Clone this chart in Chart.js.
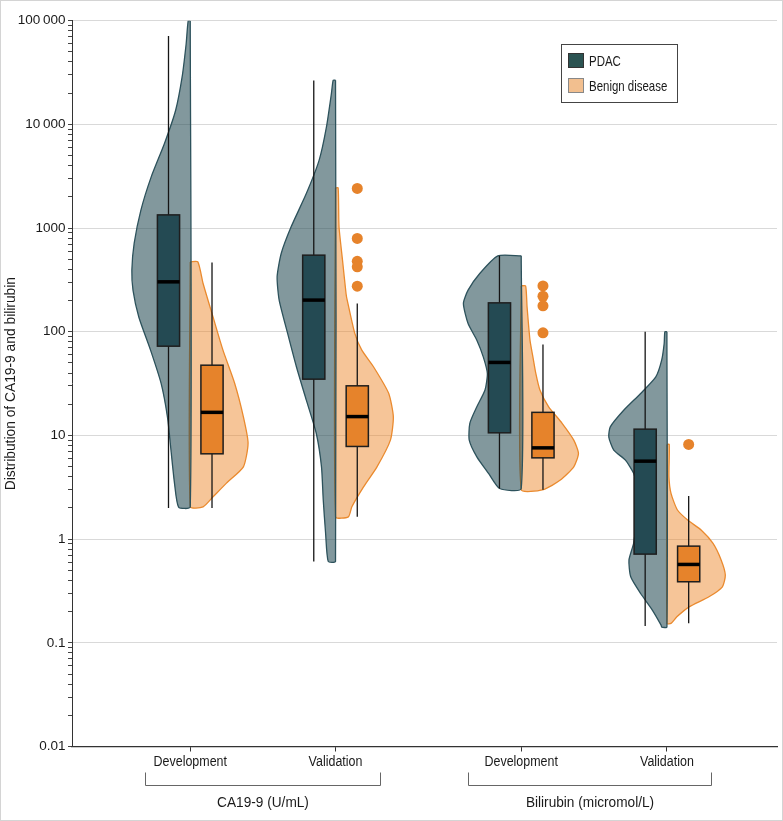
<!DOCTYPE html>
<html><head><meta charset="utf-8">
<script src="https://cdn.jsdelivr.net/npm/chart.js@4/dist/chart.umd.min.js"></script>
<style>html,body{margin:0;padding:0;background:#fff}#wrap{width:783px;height:821px;position:relative}</style>
</head><body><div id="wrap"><canvas id="c" width="783" height="821"></canvas></div>
<script>
// ---------- data ----------
const categories = ['Development', 'Validation', 'Development', 'Validation'];
const groupLabels = ['CA19-9 (U/mL)', 'Bilirubin (micromol/L)'];
const seriesNames = ['PDAC', 'Benign disease'];
const yTitle = 'Distribution of CA19-9 and bilirubin';
const yTickLabels = ['0.01', '0.1', '1', '10', '100', '1000', '10\u2009000', '100\u2009000'];

// box statistics per category: [min, q1, median, q3, max]
const pdacBox = [[2.0, 72.6, 303, 1340, 71000], [0.61, 34.9, 202, 548, 26500], [3.08, 10.6, 50.6, 190, 540], [0.145, 0.717, 5.65, 11.5, 100]];
const benignBox = [[2.0, 6.65, 16.7, 47.6, 466], [1.64, 7.83, 15.2, 30.1, 187], [3.0, 6.08, 7.59, 16.7, 75.4], [0.154, 0.388, 0.57, 0.856, 2.6]];
const benignOutliers = [[], [2410, 794, 478, 423, 275], [277, 220, 178, 97.6], [8.19]];

// half-violin profiles: [value, relative density]
const pdacViolinCaDev = [[100000, 0.035], [60000, 0.07], [28500, 0.14], [13700, 0.25], [6590, 0.44], [3100, 0.67], [1490, 0.845], [715, 0.96], [393, 1.0], [251, 0.98], [138, 0.88], [66.5, 0.68], [31.9, 0.5], [15.0, 0.39], [7.2, 0.33], [3.47, 0.27], [2.04, 0.2]];
const benignViolinCaDev = [[472, 0.13], [292, 0.22], [139, 0.39], [66.5, 0.56], [31.9, 0.76], [15.1, 0.91], [8.43, 0.99], [4.98, 0.91], [3.47, 0.62], [2.56, 0.39], [2.05, 0.22]];
const pdacViolinCaVal = [[26700, 0.04], [19900, 0.07], [9460, 0.155], [4520, 0.28], [2150, 0.5], [1028, 0.76], [569, 0.93], [339, 1.0], [202, 0.965], [96.4, 0.82], [46, 0.67], [21.9, 0.5], [10.5, 0.33], [4.98, 0.24], [2.38, 0.21], [1.14, 0.17], [0.61, 0.125]];
const benignViolinCaVal = [[2440, 0.045], [1028, 0.06], [490, 0.12], [234, 0.18], [202, 0.2], [96.4, 0.33], [66.5, 0.45], [46, 0.65], [25.5, 0.91], [15.1, 0.99], [9.02, 0.94], [4.98, 0.71], [3.19, 0.48], [2.05, 0.28], [1.64, 0.22]];
const pdacViolinBiDev = [[540, 0.40], [365, 0.71], [252, 0.91], [187.5, 0.99], [120, 0.91], [83, 0.76], [57.3, 0.65], [39.6, 0.58], [27.4, 0.62], [18.9, 0.76], [13.1, 0.88], [9.02, 0.89], [6.22, 0.76], [4.31, 0.56], [3.08, 0.37]];
const benignViolinBiDev = [[277, 0.075], [174, 0.10], [83, 0.15], [57.3, 0.2], [39.6, 0.25], [27.4, 0.32], [18.9, 0.47], [13.1, 0.7], [9.02, 0.9], [6.7, 0.98], [4.98, 0.9], [3.71, 0.67], [3.01, 0.38]];
const pdacViolinBiVal = [[100, 0.035], [77.1, 0.047], [53.2, 0.09], [36.7, 0.19], [25.4, 0.45], [17.5, 0.74], [12.1, 0.97], [9.64, 0.995], [7.21, 0.91], [5.78, 0.71], [4.31, 0.57], [2.97, 0.5], [1.91, 0.5], [1.36, 0.53], [0.91, 0.57], [0.627, 0.65], [0.433, 0.62], [0.299, 0.45], [0.207, 0.25], [0.148, 0.1], [0.142, 0.09]];
const benignViolinBiVal = [[8.19, 0.04], [3.99, 0.035], [2.76, 0.07], [1.91, 0.18], [1.52, 0.36], [1.22, 0.59], [0.91, 0.79], [0.627, 0.93], [0.45, 1.0], [0.347, 0.95], [0.278, 0.72], [0.222, 0.38], [0.178, 0.17], [0.154, 0.07]];

const pdacViolins = [pdacViolinCaDev, pdacViolinCaVal, pdacViolinBiDev, pdacViolinBiVal];
const benignViolins = [benignViolinCaDev, benignViolinCaVal, benignViolinBiDev, benignViolinBiVal];

// ---------- layout (axis units) ----------
const X_MAX = 4.829;
const catPos = [0.81, 1.805, 3.077, 4.075];
const groupSpan = [[0.497, 2.11], [2.712, 4.38]];
const BOX_OFF = 0.149, BOX_HW = 0.076, VIOLIN_W = 0.4;

const FONT = "'Liberation Sans', Arial, sans-serif";
const TXT = '#1a1a1a';
const PDAC_DARK = '#244a53', PDAC_FILL = 'rgba(36,74,83,0.57)', PDAC_LINE = '#2d525c';
const BEN_DARK = '#e6832b', BEN_FILL = 'rgba(236,134,40,0.48)', BEN_LINE = '#ea8a2e';

function halfViolin(profile, c, side) {
  const pts = [{x: c, y: profile[0][0]}];
  profile.forEach(([v, d]) => pts.push({x: c + side * d * VIOLIN_W, y: v}));
  pts.push({x: c, y: profile[profile.length - 1][0]});
  pts.push({x: c, y: profile[0][0]});
  return pts;
}

const datasets = [];
catPos.forEach((c, i) => {
  datasets.push({data: halfViolin(pdacViolins[i], c, -1), showLine: true, fill: 'shape', backgroundColor: PDAC_FILL, borderColor: PDAC_LINE, borderWidth: 1.3, pointRadius: 0, tension: 0.2, order: 3});
  datasets.push({data: halfViolin(benignViolins[i], c, 1), showLine: true, fill: 'shape', backgroundColor: BEN_FILL, borderColor: BEN_LINE, borderWidth: 1.3, pointRadius: 0, tension: 0.2, order: 3});
});
const outlierPts = [];
benignOutliers.forEach((arr, i) => arr.forEach(v => outlierPts.push({x: catPos[i] + BOX_OFF, y: v})));
datasets.push({data: outlierPts, showLine: false, pointRadius: 5.5, pointBackgroundColor: BEN_DARK, pointBorderWidth: 0, order: 1});

function isDecade(v) { const l = Math.log10(v); return Math.abs(l - Math.round(l)) < 1e-6; }

// condensed text helper (horizontal squeeze of a regular face)
function cText(ctx, str, x, y, size, sx, align, rot) {
  ctx.save();
  ctx.translate(x, y);
  if (rot) ctx.rotate(rot);
  ctx.scale(sx, 1);
  ctx.font = size + 'px ' + FONT;
  ctx.fillStyle = TXT;
  ctx.textAlign = align;
  ctx.textBaseline = 'alphabetic';
  ctx.fillText(str, 0, 0);
  ctx.restore();
}

const boxPlugin = {
  id: 'boxes',
  afterDatasetsDraw(chart) {
    const {ctx, scales: {x: xs, y: ys}} = chart;
    ctx.save();
    function drawBox(pos, st, fill) {
      const [mn, q1, md, q3, mx] = st;
      const xc = xs.getPixelForValue(pos), xl = xs.getPixelForValue(pos - BOX_HW), xr = xs.getPixelForValue(pos + BOX_HW);
      ctx.strokeStyle = '#151515'; ctx.lineWidth = 1.3;
      ctx.beginPath(); ctx.moveTo(xc, ys.getPixelForValue(mn)); ctx.lineTo(xc, ys.getPixelForValue(mx)); ctx.stroke();
      const yt = ys.getPixelForValue(q3), yb = ys.getPixelForValue(q1);
      ctx.fillStyle = fill; ctx.fillRect(xl, yt, xr - xl, yb - yt);
      ctx.strokeStyle = '#1e1e1e'; ctx.lineWidth = 1.5; ctx.strokeRect(xl, yt, xr - xl, yb - yt);
      const ym = ys.getPixelForValue(md);
      ctx.strokeStyle = '#000'; ctx.lineWidth = 3.5;
      ctx.beginPath(); ctx.moveTo(xl, ym); ctx.lineTo(xr, ym); ctx.stroke();
    }
    catPos.forEach((c, i) => {
      drawBox(c - BOX_OFF, pdacBox[i], PDAC_DARK);
      drawBox(c + BOX_OFF, benignBox[i], BEN_DARK);
    });
    ctx.restore();
  },
  afterDraw(chart) {
    const {ctx, scales: {x: xs, y: ys}} = chart;
    ctx.save();
    // category labels
    catPos.forEach((c, i) => cText(ctx, categories[i], xs.getPixelForValue(c), xs.top + 19.2, 14, 0.89, 'center'));
    // group brackets
    const yb = xs.top + 38.5, yt = yb - 12.5;
    ctx.strokeStyle = '#666'; ctx.lineWidth = 1;
    groupSpan.forEach(([a, b], g) => {
      const xa = Math.round(xs.getPixelForValue(a)) + 0.5, xb = Math.round(xs.getPixelForValue(b)) + 0.5;
      ctx.beginPath(); ctx.moveTo(xa, yt); ctx.lineTo(xa, yb + 0.5); ctx.lineTo(xb, yb + 0.5); ctx.lineTo(xb, yt); ctx.stroke();
      cText(ctx, groupLabels[g], (xa + xb) / 2, xs.top + 60.2, 15, 0.91, 'center');
    });
    // y title
    cText(ctx, yTitle, 15, (ys.top + ys.bottom) / 2, 15, 0.92, 'center', -Math.PI / 2);
    // legend
    ctx.strokeStyle = '#444'; ctx.lineWidth = 1;
    ctx.strokeRect(561.5, 44.5, 116, 58);
    ctx.fillStyle = '#2b5352'; ctx.fillRect(568, 53, 16, 15); ctx.strokeStyle = '#333'; ctx.strokeRect(568.5, 53.5, 15, 14);
    ctx.fillStyle = '#f2bf8f'; ctx.fillRect(568, 78, 16, 15); ctx.strokeStyle = '#888'; ctx.strokeRect(568.5, 78.5, 15, 14);
    cText(ctx, seriesNames[0], 589, 66, 14.5, 0.79, 'left');
    cText(ctx, seriesNames[1], 589, 90.5, 14.5, 0.79, 'left');
    // frame
    ctx.strokeStyle = '#d4d4d4'; ctx.lineWidth = 1;
    ctx.strokeRect(0.5, 0.5, 782, 820);
    ctx.restore();
  }
};

new Chart(document.getElementById('c'), {
  type: 'scatter',
  data: {datasets},
  options: {
    responsive: false,
    animation: false,
    events: [],
    layout: {padding: {top: 20.7, right: 6, bottom: 0, left: 0}},
    plugins: {legend: {display: false}, tooltip: {enabled: false}},
    scales: {
      x: {
        type: 'linear', min: 0, max: X_MAX,
        afterBuildTicks: s => { s.ticks = catPos.map(v => ({value: v})); },
        afterFit: s => { s.height = 74.5; },
        grid: {drawOnChartArea: false, drawTicks: true, tickLength: 5, tickColor: '#333'},
        border: {color: '#333', width: 1.2},
        ticks: {display: false, autoSkip: false}
      },
      y: {
        type: 'logarithmic', min: 0.01, max: 100000,
        afterBuildTicks: s => {
          const t = [];
          for (let e = -2; e <= 5; e++) for (let m = 1; m <= 9; m++) { const v = m * Math.pow(10, e); if (v <= 100000 * 1.0001) t.push({value: v}); }
          s.ticks = t;
        },
        afterFit: s => { s.width = 72; },
        grid: {color: c => (c.tick && isDecade(c.tick.value)) ? '#d9d9d9' : 'rgba(0,0,0,0)', lineWidth: 1, drawTicks: true, tickLength: 4, tickColor: '#444'},
        border: {color: '#333', width: 1},
        ticks: {autoSkip: false, padding: 2.5, color: TXT, font: {family: FONT, size: 13.5},
          callback: v => isDecade(v) ? yTickLabels[Math.round(Math.log10(v)) + 2] : ''}
      }
    }
  },
  plugins: [boxPlugin]
});
</script></body></html>
